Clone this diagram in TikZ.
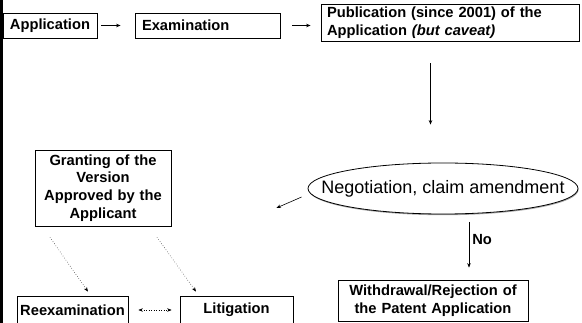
\documentclass[tikz,border=0pt]{standalone}
\usepackage{fontspec}
\setmainfont{Liberation Sans}
\usetikzlibrary{arrows.meta,positioning,shapes.geometric,shadows}

\begin{document}
\begin{tikzpicture}[x=1pt, y=-1pt,
  box/.style={draw, line width=0.8pt, fill=white, inner sep=0pt, align=center,
              font=\fontsize{14.7}{17.7}\selectfont\bfseries,
              drop shadow={shadow xshift=1pt, shadow yshift=-1pt, fill=gray!60, opacity=1}},
  arr/.style={-{Stealth[length=4.5pt, width=3.5pt]}, line width=0.6pt},
  dots/.style={dotted, line width=0.5pt, -{Stealth[length=4.5pt, width=3.5pt]}}
]
  \useasboundingbox (0,0) rectangle (582,323);
  \fill (0,0) rectangle (3,323);

  % top row
  \node[box, minimum width=94pt, minimum height=25pt] (app) at (50,25.5) {Application};
  \node[box, minimum width=145pt, minimum height=25pt, inner xsep=7pt, text width=131pt, align=left]
       (exam) at (207.5,25.5) {Examination};
  \node[box, minimum width=258pt, minimum height=37pt, inner xsep=6pt, text width=246pt, align=left]
       (pub) at (450,22.5) {Publication (since 2001) of the\\Application \textit{(but caveat)}};

  % middle
  \node[draw, ellipse, line width=0.8pt, fill=white, minimum width=270pt, minimum height=51pt, inner sep=0pt,
        drop shadow={shadow xshift=0.6pt, shadow yshift=-1.2pt, fill=gray!70, opacity=1},
        label={[font=\fontsize{18}{22}\selectfont]center:{Negotiation, claim amendment}}]
       (nego) at (443,188.5) {};
  \node[box, minimum width=136pt, minimum height=76pt, text width=125pt]
       (grant) at (103,188) {Granting of the\\Version\\Approved by the\\Applicant};

  % bottom
  \node[box, minimum width=190pt, minimum height=41pt, text width=180pt]
       (withd) at (433,300.5) {Withdrawal/Rejection of\\the Patent Application};
  \node[box, minimum width=111pt, minimum height=28pt] (reex) at (72.5,310) {Reexamination};
  \node[box, minimum width=113pt, minimum height=28pt] (lit) at (236.5,310) {Litigation};

  \draw[arr, shorten <=4pt, shorten >=14pt] (app) -- (exam);
  \draw[arr, shorten <=12pt, shorten >=10pt] (exam.east) -- (exam.east -| pub.west);
  \draw[arr, shorten <=22pt, shorten >=38pt] ([xshift=-19.5pt]pub.south)
       -- ([xshift=-19.5pt]pub.south |- nego.north);
  \draw[arr] ([xshift=-6pt, yshift=-8.5pt]nego.west) -- ([xshift=105pt, yshift=-20pt]grant.east);

  \coordinate (nostart) at (469,222);
  \draw[arr, shorten >=12pt] (nostart) -- node[pos=0.31, right, inner sep=3pt,
        font=\fontsize{14.7}{17}\selectfont\bfseries] {No} (nostart |- withd.north);

  \draw[dots] ([xshift=-53pt, yshift=-11pt]grant.south) -- ([xshift=15.5pt, yshift=4pt]reex.north);
  \draw[dots] ([xshift=54pt, yshift=-11pt]grant.south) -- ([xshift=-40.5pt, yshift=4pt]lit.north);
  \draw[dots, {Stealth[length=4.5pt, width=3.5pt]}-{Stealth[length=4.5pt, width=3.5pt]},
        shorten <=10pt, shorten >=8pt] (reex) -- (lit);
\end{tikzpicture}
\end{document}
